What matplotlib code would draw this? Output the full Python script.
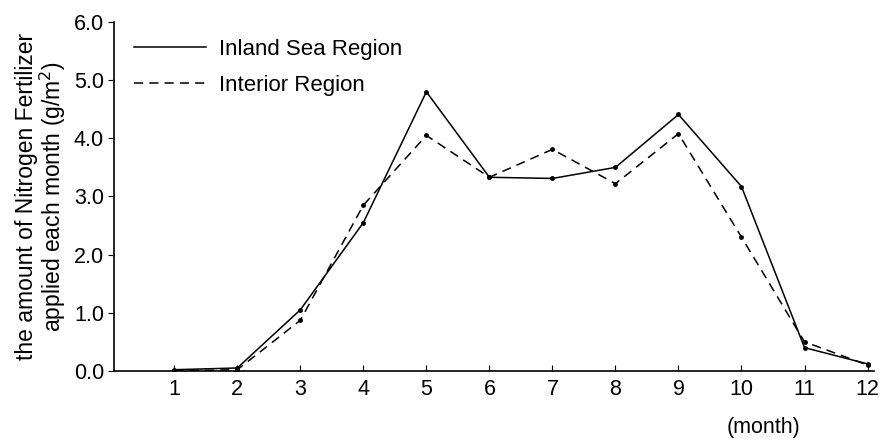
import matplotlib
matplotlib.use('Agg')
import matplotlib.pyplot as plt

# values
months = [1, 2, 3, 4, 5, 6, 7, 8, 9, 10, 11, 12]
inland_sea = [0.02, 0.05, 1.05, 2.55, 4.8, 3.33, 3.31, 3.5, 4.41, 3.17, 0.4, 0.12]
interior = [0.0, 0.02, 0.87, 2.85, 4.05, 3.33, 3.81, 3.22, 4.08, 2.3, 0.5, 0.1]
yticks = [0.0, 1.0, 2.0, 3.0, 4.0, 5.0, 6.0]

plt.rcParams['font.family'] = ['Liberation Sans', 'DejaVu Sans']

fig = plt.figure(figsize=(8.8, 4.41), dpi=100)
ax = fig.add_axes([0.13, 0.159, 0.863, 0.791])

ax.plot(months, inland_sea, color='black', lw=1.1, marker='o', ms=2.5,
        label='Inland Sea Region')
ax.plot(months, interior, color='black', lw=1.1, ls=(0, (6, 4)), marker='o', ms=2.5,
        label='Interior Region')

ax.set_xlim(0.05, 12.1)
ax.set_ylim(0, 6.0)
ax.set_xticks(months)
ax.set_yticks(yticks)
ax.set_yticklabels([f'{v:.1f}' for v in yticks])
ax.tick_params(axis='x', direction='in', length=4, labelsize=15.5, pad=6)
ax.tick_params(axis='y', direction='out', length=4, labelsize=15.5)

for s in ['top', 'right']:
    ax.spines[s].set_visible(False)
ax.spines['left'].set_linewidth(1.2)
ax.spines['bottom'].set_linewidth(1.2)

ax.set_ylabel('the amount of Nitrogen Fertilizer\napplied each month (g/m$^2$)',
              fontsize=16.5, labelpad=4, linespacing=1.0)
fig.text(763 / 880, 1 - 428 / 441, '(month)', fontsize=15.5, ha='center', va='center')

ax.legend(loc='upper left', bbox_to_anchor=(0.0, 1.01), frameon=False, fontsize=16,
          handlelength=3.2, handletextpad=0.6, labelspacing=0.7, markerscale=0)

fig.savefig('out.png', dpi=100)
